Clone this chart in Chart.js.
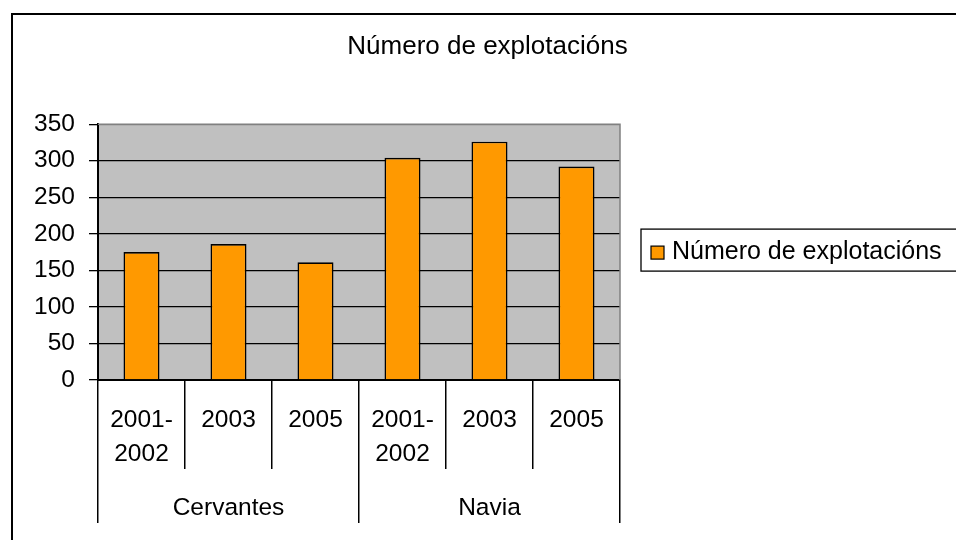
<!DOCTYPE html>
<html>
<head>
<meta charset="utf-8">
<script src="https://cdn.jsdelivr.net/npm/chart.js@4"></script>
<style>
  body { margin: 0; background: #fff; }
  canvas { display: block; }
</style>
</head>
<body>
<canvas id="chart" width="956" height="540"></canvas>
<script>
// data
const categories = [['2001-', '2002'], '2003', '2005', ['2001-', '2002'], '2003', '2005'];
const groups = ['Cervantes', 'Navia'];
const values = [175, 186, 161, 304, 326, 292];
const seriesName = 'Número de explotacións';
const yMin = 0;
const yMax = 350;
const yStep = 50;

const FONT = "'Liberation Sans', Arial, sans-serif";
const BAR = '#FF9900';

// white page, outer frame and the grey plot area
const backgroundPlugin = {
    id: 'background',
    beforeDraw(chart) {
        const c = chart.ctx;
        const a = chart.chartArea;
        c.save();
        c.fillStyle = '#fff';
        c.fillRect(0, 0, chart.width, chart.height);
        c.strokeStyle = '#000';
        c.lineWidth = 2;
        c.beginPath();
        c.moveTo(12, chart.height + 2);
        c.lineTo(12, 14);
        c.lineTo(chart.width + 2, 14);
        c.stroke();
        c.fillStyle = '#C0C0C0';
        c.fillRect(a.left, a.top, a.right - a.left, a.bottom - a.top);
        c.restore();
    },
    afterDatasetsDraw(chart) {
        const c = chart.ctx;
        const a = chart.chartArea;
        c.save();
        c.strokeStyle = '#808080';
        c.lineWidth = 1.5;
        c.beginPath();
        c.moveTo(a.left, a.top);
        c.lineTo(a.right, a.top);
        c.lineTo(a.right, a.bottom);
        c.stroke();
        c.restore();
    }
};

// Excel style legend with a frame
const legendBoxPlugin = {
    id: 'legendBox',
    afterDraw(chart) {
        const c = chart.ctx;
        const a = chart.chartArea;
        const ds = chart.data.datasets[0];
        const left = a.right + 21;
        const mid = (a.top + a.bottom) / 2 - 2;
        c.save();
        c.strokeStyle = '#000';
        c.lineWidth = 1.3;
        c.strokeRect(left, mid - 21, 400, 42);
        c.fillStyle = ds.backgroundColor;
        c.fillRect(left + 10, mid - 4, 13, 13);
        c.lineWidth = 1.2;
        c.strokeRect(left + 10, mid - 4, 13, 13);
        c.fillStyle = '#000';
        c.font = '25px ' + FONT;
        c.textBaseline = 'middle';
        c.textAlign = 'left';
        c.fillText(ds.label, left + 31, mid + 2);
        c.restore();
    }
};

const ctx = document.getElementById('chart').getContext('2d');
const chart = new Chart(ctx, {
    type: 'bar',
    data: {
        labels: categories,
        datasets: [{
            label: seriesName,
            data: values,
            backgroundColor: BAR,
            borderColor: '#000',
            borderWidth: 1.6,
            barPercentage: 0.414,
            categoryPercentage: 1
        }]
    },
    options: {
        responsive: false,
        animation: false,
        devicePixelRatio: 1,
        layout: { padding: { left: 19, right: 0, top: 0, bottom: 17 } },
        plugins: {
            legend: { display: false },
            tooltip: { enabled: false },
            title: {
                display: true,
                text: seriesName,
                color: '#000',
                font: { family: FONT, size: 26, weight: 'normal', lineHeight: 1.2 },
                padding: { top: 31, bottom: 62 }
            }
        },
        scales: {
            x: {
                offset: true,
                grid: {
                    offset: true,
                    drawOnChartArea: false,
                    tickLength: 89,
                    color: '#000',
                    lineWidth: 1.5
                },
                border: { display: true, color: '#000', width: 2 },
                ticks: {
                    color: '#000',
                    maxRotation: 0,
                    autoSkip: false,
                    padding: -65,
                    font: { family: FONT, size: 24.5, lineHeight: 1.36 }
                },
                afterFit(s) { s.height = 89; }
            },
            x2: {
                type: 'category',
                position: 'bottom',
                labels: groups,
                offset: true,
                weight: 1,
                grid: {
                    offset: true,
                    drawOnChartArea: false,
                    tickLength: 54,
                    color: '#000',
                    lineWidth: 1.5
                },
                border: { display: false },
                ticks: {
                    color: '#000',
                    maxRotation: 0,
                    padding: -29,
                    font: { family: FONT, size: 24.5, lineHeight: 1.2 }
                },
                afterFit(s) { s.height = 54; }
            },
            y: {
                min: yMin,
                max: yMax,
                grid: {
                    color: c => (c.tick && c.tick.value === yMax) ? '#808080' : '#000',
                    tickColor: '#000',
                    lineWidth: 1.3,
                    tickLength: 9
                },
                border: { display: true, color: '#000', width: 2 },
                ticks: {
                    stepSize: yStep,
                    color: '#000',
                    padding: 14,
                    font: { family: FONT, size: 24.5 }
                },
                afterFit(s) { s.width = 79; }
            },
            // empty space on the right for the legend
            legendSpace: {
                type: 'linear',
                position: 'right',
                display: true,
                grid: { display: false },
                border: { display: false },
                ticks: { display: false },
                afterFit(s) { s.width = 336; }
            }
        }
    },
    plugins: [backgroundPlugin, legendBoxPlugin]
});
</script>
</body>
</html>
